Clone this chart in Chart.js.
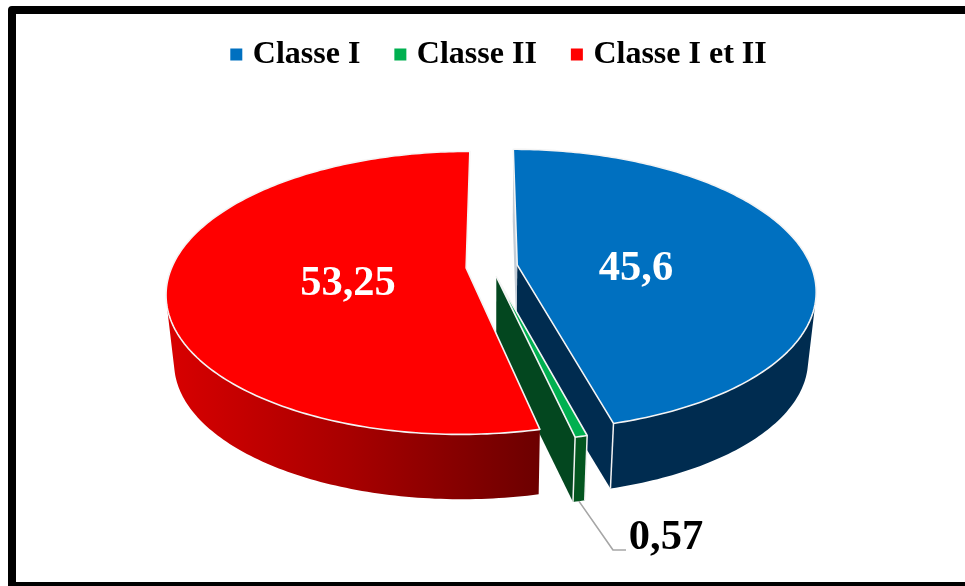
<!DOCTYPE html>
<html lang="fr">
<head>
<meta charset="utf-8">
<style>
html,body{margin:0;padding:0;background:#fff;width:965px;height:586px;overflow:hidden}
#wrap{position:relative;width:965px;height:586px}
#frame{position:absolute;left:8px;top:6px;width:1000px;height:568px;border:8px solid #000;border-radius:4px;box-sizing:content-box;pointer-events:none}
canvas{position:absolute;left:0;top:0}
</style>
<script src="https://cdn.jsdelivr.net/npm/chart.js@4/dist/chart.umd.js"></script>
</head>
<body>
<div id="wrap">
<div id="frame"></div>
<canvas id="c" width="965" height="586"></canvas>
</div>
<script>
const categories = ["Classe I", "Classe II", "Classe I et II"];
const values = [45.6, 0.57, 53.25];
const valueLabels = ["45,6", "0,57", "53,25"];
const topColors = ["#0070c0", "#00b050", "#ff0000"];

const FONT = '"Liberation Serif", "Times New Roman", serif';
const view = {cx:491, cy:266.5, R:294, a:136.6, k:0.177, depth:69, shrink:0.025};
const explodeBy = [26.5, 22, 25];
const endWall = ["#002c50", "#03471f", null];
const outerWall = ["#002c50", "#03551f", null];
const radiusFactor = [1, 0.975, 1];
const labelAnchor = [[636,269,"#fff"],[666,538,"#000"],[348,284,"#fff"]];
const drawOrder = [0,1,2];

function project(X, Y, z){
  const v = Y/view.R, d = 1 - view.k*v;
  const s = 1 - view.shrink*z;
  return [view.cx + X/d*s, view.cy + view.a*v/d*s + view.depth*z];
}
function rim(theta, th0, rho, z, e){
  const ex = e*Math.sin(th0), ey = -e*Math.cos(th0);
  return project(ex + view.R*rho*Math.sin(theta), ey - view.R*rho*Math.cos(theta), z);
}
function poly(ctx, pts){
  ctx.beginPath();
  pts.forEach((p,i)=> i ? ctx.lineTo(p[0],p[1]) : ctx.moveTo(p[0],p[1]));
  ctx.closePath();
}
function area(pts){
  let s=0;
  for(let i=0;i<pts.length;i++){const a=pts[i],b=pts[(i+1)%pts.length];s+=a[0]*b[1]-b[0]*a[1];}
  return s/2;
}
function sliceAngles(el){
  return [el.startAngle+Math.PI/2, el.endAngle+Math.PI/2];
}
function drawSlice(ctx, el, i){
  const [t0,t1] = sliceAngles(el), tm=(t0+t1)/2, n=Math.max(4,Math.ceil((t1-t0)*60));
  const rf = radiusFactor[i], e = explodeBy[i];
  const rimAt = (z)=>{const out=[];for(let j=0;j<=n;j++)out.push(rim(t0+(t1-t0)*j/n,tm,rf,z,e));return out;};
  const topRim = rimAt(0), botRim = rimAt(1);
  const apexT = rim(0,tm,0,0,e), apexB = rim(0,tm,0,1,e);
  // cut walls
  const wallE = [apexT, topRim[n], botRim[n], apexB];
  const showEnd = endWall[i] && area(wallE)>0;
  if(showEnd){poly(ctx,wallE);ctx.fillStyle=endWall[i];ctx.fill();}
  const wallS = [apexT, topRim[0], botRim[0], apexB];
  if(area(wallS)<0 && i===0){poly(ctx,wallS);ctx.fillStyle="#c3ccd6";ctx.fill();}
  // outer wall, as one shape over its front-facing span
  let fill = outerWall[i];
  if(!fill){
    const g = ctx.createLinearGradient(168,0,540,0);
    g.addColorStop(0,"#d80000");g.addColorStop(0.5,"#a60000");g.addColorStop(1,"#6c0000");
    fill = g;
  }
  const upper=[], lower=[];
  for(let j=0;j<n;j++){
    const q=[topRim[j],topRim[j+1],botRim[j+1],botRim[j]];
    if(area(q)>0) continue;
    if(!upper.length){upper.push(topRim[j]);lower.push(botRim[j]);}
    upper.push(topRim[j+1]);lower.push(botRim[j+1]);
  }
  if(upper.length){
    poly(ctx,upper.concat(lower.reverse()));ctx.fillStyle=fill;ctx.fill();
  }
  // white corner lines
  ctx.strokeStyle="#f2f2f2";ctx.lineWidth=1.5;
  if(showEnd){
    ctx.beginPath();ctx.moveTo(topRim[n][0],topRim[n][1]);ctx.lineTo(botRim[n][0],botRim[n][1]);ctx.stroke();
  }
  if(i===1){
    ctx.beginPath();ctx.moveTo(topRim[0][0],topRim[0][1]);ctx.lineTo(botRim[0][0],botRim[0][1]);ctx.stroke();
  }
  // top face
  poly(ctx,[apexT].concat(topRim));
  ctx.fillStyle=topColors[i];ctx.fill();
  ctx.strokeStyle="#f4f4f4";ctx.lineWidth=1.6;ctx.lineJoin="round";ctx.stroke();
}
const pie3d = {
  id:"pie3d",
  beforeDatasetDraw(chart,args){
    const ctx=chart.ctx, arcs=chart.getDatasetMeta(args.index).data;
    ctx.save();
    drawOrder.forEach(i=>drawSlice(ctx,arcs[i],i));
    // leader line from the small slice to its value
    const [t0,t1]=sliceAngles(arcs[1]), s=rim((t0+t1)/2,(t0+t1)/2,radiusFactor[1],1,explodeBy[1]);
    ctx.beginPath();ctx.moveTo(s[0],s[1]);ctx.lineTo(613,550);ctx.lineTo(626,550);
    ctx.strokeStyle="#a6a6a6";ctx.lineWidth=1.6;ctx.stroke();
    ctx.font='bold 42.5px '+FONT;ctx.textAlign="center";ctx.textBaseline="middle";
    valueLabels.forEach((t,i)=>{
      const a=labelAnchor[i];ctx.fillStyle=a[2];ctx.fillText(t,a[0],a[1]);
    });
    ctx.restore();
    return false;
  }
};
new Chart(document.getElementById("c"),{
  type:"pie",
  data:{labels:categories,datasets:[{data:values,backgroundColor:topColors,borderWidth:0}]},
  plugins:[pie3d],
  options:{
    responsive:false,animation:false,
    layout:{padding:{left:37.5,top:-1,right:0,bottom:10}},
    plugins:{
      tooltip:{enabled:false},
      legend:{
        position:"top",
        labels:{usePointStyle:true,pointStyle:"rect",boxWidth:1,boxHeight:12,padding:39.5,color:"#000",
          font:{family:FONT,size:32,weight:"bold"}}
      }
    }
  }
});
</script>
</body>
</html>
